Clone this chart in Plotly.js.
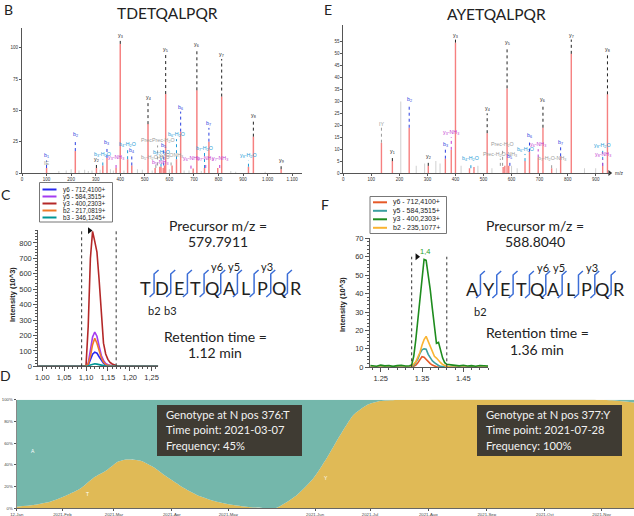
<!DOCTYPE html>
<html><head><meta charset="utf-8">
<script src="https://cdn.plot.ly/plotly-3.0.1.min.js"></script>
<style>html,body{margin:0;padding:0;background:#fff}#chart{width:634px;height:516px}</style>
</head><body><div id="chart"></div>
<script>
// ---------------- DATA ----------------
// Panel B spectrum (TDETQALPQR)
const B_mz  = [100,217,303,329,346,383,400,430,447,513,542,561,566,575,580,585,611,629,646,697,712,743,761,797,813,922,942,1055];
const B_int = [4,17.5,4,6,12,4,103,11,6,39,4,5,5,4,6,63,6,11,33,3.5,66,4,25,4,61,5,29,3];
const B_noiseMz  = [150,180,200,232,255,270,285,318,360,372,415,470,490,530,600,660,680,730,850,870,990];
const B_noiseInt = [1.5,2,3,2,2.5,1.5,2,2.5,3,2,2,3,2.5,2,3,2,2,1.5,1.5,1,1];
const B_labMz   = [100,100,217,303,329,346,383,400,430,447,513,545,563,566,552,577,585,607,629,646,688,712,743,748,761,805,813,922,942,1055];
const B_labFrom = [4,4,17.5,4,6,12,4,103,11,6,39,4,5,5,6,6,63,6,11,33,3.5,66,4,4,25,4,61,5,29,3];
const B_labTo   = [10,4.5,27,7,11,21,8.5,106,19,14,57,8.5,4.5,13,22,18,95,10.5,27,49,8,99,16,8,36,8,91,10,42,6];
const B_labText = ['b<sub>1</sub>','IE','b<sub>2</sub>','y<sub>2</sub>','b<sub>3</sub>-H<sub>2</sub>O','b<sub>3</sub>','y<sub>3</sub>-NH<sub>3</sub>','y<sub>3</sub>','b<sub>4</sub>-H<sub>2</sub>O','b<sub>4</sub>','y<sub>4</sub>','b<sub>5</sub>-H<sub>2</sub>O-H<sub>2</sub>O','b<sub>5</sub>-NH<sub>3</sub>','b<sub>5</sub>-H<sub>2</sub>O','PrecPrec-H<sub>2</sub>O','b<sub>5</sub>','y<sub>5</sub>','y<sub>5</sub>-CONH<sub>3</sub>','b<sub>6</sub>-H<sub>2</sub>O','b<sub>6</sub>','y<sub>6</sub>-NH<sub>3</sub>','y<sub>6</sub>','b<sub>7</sub>-H<sub>2</sub>O','b<sub>7</sub>-NH<sub>3</sub>','b<sub>7</sub>','y<sub>7</sub>-NH<sub>3</sub>','y<sub>7</sub>','y<sub>8</sub>-H<sub>2</sub>O','y<sub>8</sub>','y<sub>9</sub>'];
const B_labKind = ['b','oth','b','y','h2o','b','nh3','y','h2o','b','y','oth','nh3','h2o','oth','b','y','oth','h2o','b','nh3','y','h2o','nh3','b','nh3','y','h2o','y','y'];

// Panel E spectrum (AYETQALPQR)
const E_mz  = [136,175,235,303,364,385,400,450,466,513,570,576,584,590,648,664,695,712,743,775,813,925,942];
const E_int = [12.7,5,19,3,6,9.7,54.7,2,2.5,16.7,2.5,3,35.5,3,5,9,6.5,19,2,7,50,3,33];
const E_noiseMz  = [205,260,290,330,345,420,480,530,600,620,760,860,900];
const E_noiseInt = [30,3,4,5,4,3,3,2,3,2,2,2,2];
const E_labMz   = [136,175,235,303,364,385,400,455,513,568,560,584,594,648,664,695,712,743,775,813,925,925,942];
const E_labFrom = [12.7,5,19,3,6,9.7,54.7,2,16.7,3,3,35.5,3,5,9,6.5,19,2,7,50,3,3,33];
const E_labTo   = [19,7,29,5,10,15,56,4,25,10,6,53,5,8,14,10,29,4,11,56,6,9.5,50];
const E_labText = ['IY','y<sub>1</sub>','b<sub>2</sub>','y<sub>2</sub>','b<sub>3</sub>','y<sub>3</sub>-NH<sub>3</sub>','y<sub>3</sub>','b<sub>4</sub>-H<sub>2</sub>O','y<sub>4</sub>','Prec-H<sub>2</sub>O','Prec-H<sub>2</sub>O-NH<sub>3</sub>','y<sub>5</sub>','b<sub>5</sub>','b<sub>6</sub>-H<sub>2</sub>O','b<sub>6</sub>','y<sub>6</sub>-NH<sub>3</sub>','y<sub>6</sub>','b<sub>7</sub>-H<sub>2</sub>O-NH<sub>3</sub>','b<sub>7</sub>','y<sub>7</sub>','y<sub>8</sub>-NH<sub>3</sub>','y<sub>8</sub>-H<sub>2</sub>O','y<sub>8</sub>'];
const E_labKind = ['oth','y','b','y','b','nh3','y','h2o','y','oth','oth','y','b','h2o','b','nh3','y','oth','b','y','nh3','h2o','y'];

// Panel C chromatogram
const C_time = [0.99,1.00,1.02,1.04,1.06,1.08,1.09,1.095,1.100,1.105,1.110,1.115,1.120,1.125,1.130,1.135,1.140,1.145,1.150,1.155,1.160,1.170,1.180,1.20,1.22,1.24,1.265];
const C_names = ['y6 - 712,4100+','y5 - 584,3515+','y3 - 400,2303+','b2 - 217,0819+','b3 - 346,1245+'];
const C_y6 = [0,0,0,0,0,0,0,0,1,8,40,78,92,85,62,40,20,8,3,2,1,0,0,0,0,0,0];
const C_y5 = [0,0,0,0,0,0,0,0,2,20,95,190,222,195,130,70,38,18,10,5,3,1,0,0,0,0,0];
const C_y3 = [0,0,0,0,0,0,0,0,5,260,700,875,810,740,560,320,150,80,45,25,15,4,0,0,0,0,0];
const C_b2 = [0,0,0,0,0,0,0,0,2,15,65,140,182,150,95,55,28,12,6,3,2,0,0,0,0,0,0];
const C_b3 = [0,0,0,0,0,0,0,0,0,2,8,14,16,14,10,6,3,1,0,0,0,0,0,0,0,0,0];
const C_bounds = [1.090,1.169];
const C_apex = [1.108, 880];
const C_xticks = [1.00,1.05,1.10,1.15,1.20,1.25];
const C_xtickText = ['1,00','1,05','1,10','1,15','1,20','1,25'];

// Panel F chromatogram
const F_time = [1.225,1.24,1.25,1.26,1.27,1.28,1.29,1.30,1.31,1.32,1.325,1.33,1.335,1.34,1.345,1.35,1.355,1.36,1.365,1.37,1.375,1.38,1.385,1.39,1.395,1.40,1.405,1.41,1.42,1.43,1.44,1.45,1.46,1.47,1.48,1.49,1.50,1.51];
const F_names = ['y6 - 712,4100+','y5 - 584,3515+','y3 - 400,2303+','b2 - 235,1077+'];
const F_y6 = [0,0,0,0,0,0,0,0,0,0, 0,0.5,1.2,2.5,4.5,5.8,5.5,4.3,3,2,1.2,0.6,0.3,0,0,0,0,0, 0,0,0,0,0,0,0,0,0,0];
const F_y5 = [0,0,0,0,0,0,0,0,0,0, 0.3,1,2.5,4.5,7.5,9.5,10,9.8,7,5,3.5,2.5,1.5,1,0.5,0.3,0,0, 0,0,0,0,0,0,0,0,0,0];
const F_y3 = [1.0,0.6,1.2,0.8,1.0,0.5,0.9,1.1,0.7,0.8, 1.3,6,15,26,38,51,58.5,58,51,42,32,21,13,13.5,9,5,2.5,1.6, 1.3,1.0,0.8,1.1,0.7,0.9,0.6,1.0,0.8,0.7];
const F_b2 = [0,0,0,0,0,0,0,0,0,0, 0.5,1.5,3,5.5,8,12,15,16.8,14,11,8,6,5,3.5,2.5,1.5,1,0.5, 0,0,0,0,0,0,0,0,0,0];
const F_bounds = [1.325,1.41];
const F_apex = [1.338, 60];
const F_apexLabel = '1,4';
const F_xticks = [1.25,1.35,1.45];
const F_xtickText = ['1.25','1.35','1.45'];

// Peptides
const pepC = ['T','D','E','T','Q','A','L','P','Q','R'];
const pepF = ['A','Y','E','T','Q','A','L','P','Q','R'];
const C_yIons = [6,5,3], C_bIons = [2,3];
const F_yIons = [6,5,3], F_bIons = [2];

// Panel D frequency over time
const D_x    = [0,8.9,17.8,26.7,33.8,41,48.1,54.3,58.8,65.9,73,80.2,89.1,98,106.9,115.8,124.7,133.6,139,149.7,158.6,165.7,172.8,180,187.1,194.2,203.1,215.6,311.8,318.2,330];
const D_nonA = [1.5,3,6,12,18,28,35,43,45,44,38,29,19,11,6,3,1,0.3,0.5,12,27.6,46,67,86,95,98.7,99.7,100,100,99.5,97.5];
const D_tickPos  = [0,24.4,52,82.9,113.1,159.5,188.9,220,251.3,282.4,312.7];
const D_tickText = ['12-Jan','2021-Feb','2021-Mar','2021-Apr','2021-May','2021-Jun','2021-Jul','2021-Aug','2021-Sep','2021-Oct','2021-Nov'];
const D_box1 = ['Genotype at N pos 376:T','Time point: 2021-03-07','Frequency: 45%'];
const D_box2 = ['Genotype at N pos 377:Y','Time point: 2021-07-28','Frequency: 100%'];

// ---------------- HELPERS ----------------
const W = 634, H = 516;
const fx = p => p / W, fy = p => 1 - p / H;
const fontT = 'Lato, "Liberation Sans", sans-serif';
const fontA = '"Liberation Sans", Arial, sans-serif';
const KCOL = {y:'#222222', b:'#2a3fe0', h2o:'#1e9bd7', nh3:'#c23bd0', oth:'#9a9a9a'};
const BAR = 'rgb(246,128,128)';

const traces = [];
const ann = [];
const shapes = [];

function spectrum(mz, inten, nmz, nint, lmz, lfrom, lto, ltext, lkind, xa, ya, bw) {
  traces.push({type:'bar', x:nmz, y:nint, width:bw*0.7, xaxis:xa, yaxis:ya, marker:{color:'#cfcfcf'}, hoverinfo:'skip'});
  traces.push({type:'bar', x:mz, y:inten, width:bw, xaxis:xa, yaxis:ya, marker:{color:BAR}, hoverinfo:'skip'});
  Object.keys(KCOL).forEach(k => {
    const xs = [], ys = [];
    lmz.forEach((m, i) => { if (lkind[i] === k && lto[i] > lfrom[i] + 0.8) { xs.push(m, m, null); ys.push(lfrom[i], lto[i], null); } });
    traces.push({type:'scatter', mode:'lines', x:xs, y:ys, xaxis:xa, yaxis:ya, line:{color:KCOL[k], width:1, dash:'dot'}, hoverinfo:'skip'});
  });
  lmz.forEach((m, i) => {
    ann.push({xref:xa, yref:ya, x:m, y:lto[i], yanchor:'bottom', text:ltext[i], showarrow:false,
      font:{size:5.3, color:KCOL[lkind[i]], family:fontA}, yshift:-1});
  });
}
spectrum(B_mz, B_int, B_noiseMz, B_noiseInt, B_labMz, B_labFrom, B_labTo, B_labText, B_labKind, 'x', 'y', 6);
spectrum(E_mz, E_int, E_noiseMz, E_noiseInt, E_labMz, E_labFrom, E_labTo, E_labText, E_labKind, 'x2', 'y2', 5);
// arrow at end of E x-axis
traces.push({type:'scatter', mode:'markers', x:[950], y:[0], xaxis:'x2', yaxis:'y2', marker:{symbol:'triangle-right', size:5, color:'#333'}, cliponaxis:false, hoverinfo:'skip'});

// Chromatograms
const C_cols = ['rgb(40,40,240)','rgb(165,60,240)','rgb(180,40,40)','rgb(240,120,40)','rgb(0,150,150)'];
[C_y6, C_y5, C_y3, C_b2, C_b3].forEach((s, i) => {
  traces.push({type:'scatter', mode:'lines', x:C_time, y:s, xaxis:'x3', yaxis:'y3', line:{color:C_cols[i], width:1.6}, hoverinfo:'skip'});
});
const F_cols = ['rgb(230,90,40)','rgb(60,160,160)','rgb(30,140,30)','rgb(250,180,50)'];
[F_y6, F_y5, F_b2, F_y3].forEach((s, i) => {
  const ci = [0,1,3,2][i];
  traces.push({type:'scatter', mode:'lines', x:F_time, y:s, xaxis:'x4', yaxis:'y4', line:{color:F_cols[ci], width:1.6}, hoverinfo:'skip'});
});
function bounds(b, top, xa, ya) {
  traces.push({type:'scatter', mode:'lines', x:[b[0],b[0],null,b[1],b[1]], y:[0,top,null,0,top], xaxis:xa, yaxis:ya, line:{color:'#333', width:1, dash:'dot'}, hoverinfo:'skip'});
}
bounds(C_bounds, 884, 'x3', 'y3');
bounds(F_bounds, 60, 'x4', 'y4');
traces.push({type:'scatter', mode:'markers', x:[C_apex[0]], y:[C_apex[1]], xaxis:'x3', yaxis:'y3', marker:{symbol:'triangle-right', size:6, color:'#111'}, cliponaxis:false, hoverinfo:'skip'});
traces.push({type:'scatter', mode:'markers', x:[F_apex[0]], y:[F_apex[1]], xaxis:'x4', yaxis:'y4', marker:{symbol:'triangle-right', size:6, color:'#111'}, cliponaxis:false, hoverinfo:'skip'});
ann.push({xref:'x4', yref:'y4', x:1.357, y:62.7, text:F_apexLabel, showarrow:false, font:{size:7.5, color:'rgb(40,160,40)', family:fontA}});

// Panel D stacked areas
traces.push({type:'scatter', mode:'lines', x:D_x, y:D_nonA, xaxis:'x5', yaxis:'y5', stackgroup:'d', line:{width:0, shape:'spline', smoothing:0.6}, fillcolor:'rgb(224,186,86)', hoverinfo:'skip'});
traces.push({type:'scatter', mode:'lines', x:D_x, y:D_nonA.map(v => 100 - v), xaxis:'x5', yaxis:'y5', stackgroup:'d', line:{width:0, shape:'spline', smoothing:0.6}, fillcolor:'rgb(116,183,171)', hoverinfo:'skip'});
[['A',8.7,52.7],['T',37.6,13],['Y',165.4,28]].forEach(t => ann.push({xref:'x5', yref:'y5', x:t[1], y:t[2], text:t[0], showarrow:false, font:{size:5, color:'#fff', family:fontA}}));

// Peptide sequence diagrams
function peptide(seq, yIons, bIons, xa, ya) {
  seq.forEach((r, i) => ann.push({xref:xa, yref:ya, x:i, y:0, text:r, showarrow:false, font:{size:18, color:'#222', family:fontT}}));
  const xs = [], ys = [];
  for (let i = 0; i < seq.length - 1; i++) {
    const c = i + 0.5;
    xs.push(c - 0.27, c, c, c + 0.27, null);
    ys.push(-9, -5, 14, 18, null);
  }
  traces.push({type:'scatter', mode:'lines', x:xs, y:ys, xaxis:xa, yaxis:ya, line:{color:'rgb(60,110,215)', width:1.5}, hoverinfo:'skip'});
  yIons.forEach(n => ann.push({xref:xa, yref:ya, x:seq.length - n - 0.5 + 0.8, y:21.5, text:'y' + n, showarrow:false, font:{size:11, color:'#222', family:fontT}}));
  bIons.forEach(n => ann.push({xref:xa, yref:ya, x:n - 0.5 - 1.0, y:-22, text:'b' + n, showarrow:false, font:{size:11, color:'#222', family:fontT}}));
}
peptide(pepC, C_yIons, C_bIons, 'x6', 'y6');
peptide(pepF, F_yIons, F_bIons, 'x7', 'y7');

// ---------------- TEXT ----------------
function txt(t, px, py, size, opts) {
  ann.push(Object.assign({xref:'paper', yref:'paper', x:fx(px), y:fy(py), text:t, showarrow:false, font:{size:size, color:'#222', family:fontT}, xanchor:'center', yanchor:'middle'}, opts || {}));
}
txt('B', 8, 9, 14);
txt('E', 328, 9, 14);
txt('C', 6, 194, 14);
txt('F', 325, 204, 14);
txt('D', 5, 375, 14);
txt('TDETQALPQR', 167, 13, 15.5);
txt('AYETQALPQR', 496, 14, 15.5);
txt('Precursor m/z =', 218, 225, 14);
txt('579.7911', 218, 242, 14);
txt('Retention time =', 215, 336, 14);
txt('1.12 min', 215, 352, 14);
txt('Precursor m/z =', 535, 225, 14);
txt('588.8040', 535, 242, 14);
txt('Retention time =', 537, 332, 14);
txt('1.36 min', 537, 349, 14);
txt('Intensity (10^3)', 12, 295, 7.5, {textangle:-90, font:{size:7.5, color:'#222', family:fontA, weight:'bold'}});
txt('Intensity (10^3)', 342, 305, 7.5, {textangle:-90, font:{size:7.5, color:'#222', family:fontA, weight:'bold'}});
txt('m/z', 619, 173, 5, {font:{size:5, color:'#333', family:fontA}});

// Legends (drawn manually)
function legend(names, cols, x0, y0, x1, y1, rowY, size) {
  shapes.push({type:'rect', xref:'paper', yref:'paper', x0:fx(x0), x1:fx(x1), y0:fy(y0), y1:fy(y1), line:{color:'#777', width:1}, fillcolor:'#fff'});
  names.forEach((n, i) => {
    const py = rowY[i];
    shapes.push({type:'line', xref:'paper', yref:'paper', x0:fx(x0 + 3), x1:fx(x0 + 17), y0:fy(py), y1:fy(py), line:{color:cols[i], width:2}});
    txt(n, x0 + 21, py, size, {xanchor:'left', font:{size:size, color:'#222', family:fontA}});
  });
}
legend(C_names, C_cols, 39.5, 182.5, 112.5, 222, [189.5,196.5,203.5,210.5,217.5], 6.3);
legend(F_names, F_cols, 370, 196.5, 446.5, 233.5, [202.3,210.8,219.3,227.8], 7);

// Panel D boxes
function dbox(lines, x0, x1) {
  shapes.push({type:'rect', xref:'paper', yref:'paper', x0:fx(x0), x1:fx(x1), y0:fy(405), y1:fy(456), line:{width:0}, fillcolor:'rgb(63,59,51)'});
  [414.3, 429.5, 445].forEach((py, i) => txt(lines[i], x0 + 6.5, py, 11.2, {xanchor:'left', font:{size:11.2, color:'#f2f2f2', family:fontT}}));
}
dbox(D_box1, 157, 302);
dbox(D_box2, 477, 622);

// ---------------- AXES ----------------
function ax(domain, range, anchor, extra) {
  return Object.assign({domain, range, anchor, showgrid:false, zeroline:false, showline:true, linecolor:'#555', linewidth:1,
    ticks:'outside', ticklen:2, tickcolor:'#555', tickmode:'array', fixedrange:true,
    tickfont:{size:4.5, color:'#333', family:fontA}}, extra || {});
}
const rng = (a, b, s) => { const o = []; for (let v = a; v <= b + 1e-9; v += s) o.push(+v.toFixed(4)); return o; };
const Bx = rng(0, 1100, 100);
const Ex = rng(0, 900, 100);
const layout = {
  width:W, height:H, margin:{l:0, r:0, t:0, b:0}, paper_bgcolor:'#fff', plot_bgcolor:'rgba(0,0,0,0)',
  showlegend:false, hovermode:false, barmode:'overlay',
  xaxis: ax([fx(22), fx(302)], [0, 1140], 'y', {tickvals:Bx, ticktext:Bx.map(v => v >= 1000 ? (v/1000).toFixed(3) : String(v))}),
  yaxis: ax([fy(173), fy(28)], [0, 115.7], 'x', {tickvals:[0,25,50,75,100]}),
  xaxis2: ax([fx(343.3), fx(609.7)], [0, 950], 'y2', {tickvals:Ex}),
  yaxis2: ax([fy(173), fy(25)], [0, 62.1], 'x2', {tickvals:rng(0,55,5)}),
  xaxis3: ax([fx(38.3), fx(158.3)], [0.9908, 1.2654], 'y3', {tickvals:C_xticks, ticktext:C_xtickText, ticklen:4,
    tickfont:{size:7.5, color:'#333', family:fontA}, minor:{dtick:0.01, tick0:1, ticks:'outside', ticklen:2, tickcolor:'#555'}}),
  yaxis3: ax([fy(366.3), fy(230)], [0, 884], 'x3', {tickvals:rng(0,800,100), ticklen:4,
    tickfont:{size:7.5, color:'#333', family:fontA}, minor:{dtick:20, ticks:'outside', ticklen:2, tickcolor:'#555'}}),
  xaxis4: ax([fx(370), fx(488.3)], [1.2241, 1.5105], 'y4', {tickvals:F_xticks, ticktext:F_xtickText, ticklen:4,
    tickfont:{size:7.5, color:'#333', family:fontA}, minor:{dtick:0.02, tick0:1.25, ticks:'outside', ticklen:2, tickcolor:'#555'}}),
  yaxis4: ax([fy(367.3), fy(238.3)], [0, 70], 'x4', {tickvals:rng(0,70,10), ticklen:4,
    tickfont:{size:7.5, color:'#333', family:fontA}, minor:{dtick:2, ticks:'outside', ticklen:2, tickcolor:'#555'}}),
  xaxis5: ax([fx(16.7), fx(634)], [0, 330], 'y5', {tickvals:D_tickPos, ticktext:D_tickText, linecolor:'#666', tickfont:{size:4.3, color:'#444', family:fontA}}),
  yaxis5: ax([fy(508.3), fy(399.7)], [0, 100], 'x5', {tickvals:rng(0,100,20), ticktext:rng(0,100,20).map(v => v + '%'), linecolor:'#888', tickfont:{size:4.3, color:'#444', family:fontA}}),
  xaxis6: {domain:[fx(137.4), fx(304.1)], range:[-0.5, 9.5], anchor:'y6', visible:false, fixedrange:true},
  yaxis6: {domain:[fy(320), fy(255)], range:[-32, 33], anchor:'x6', visible:false, fixedrange:true},
  xaxis7: {domain:[fx(464.1), fx(627.5)], range:[-0.5, 9.5], anchor:'y7', visible:false, fixedrange:true},
  yaxis7: {domain:[fy(321), fy(256)], range:[-32, 33], anchor:'x7', visible:false, fixedrange:true},
  annotations: ann,
  shapes: shapes
};
Plotly.newPlot('chart', traces, layout, {staticPlot:true, displayModeBar:false});
</script></body></html>
